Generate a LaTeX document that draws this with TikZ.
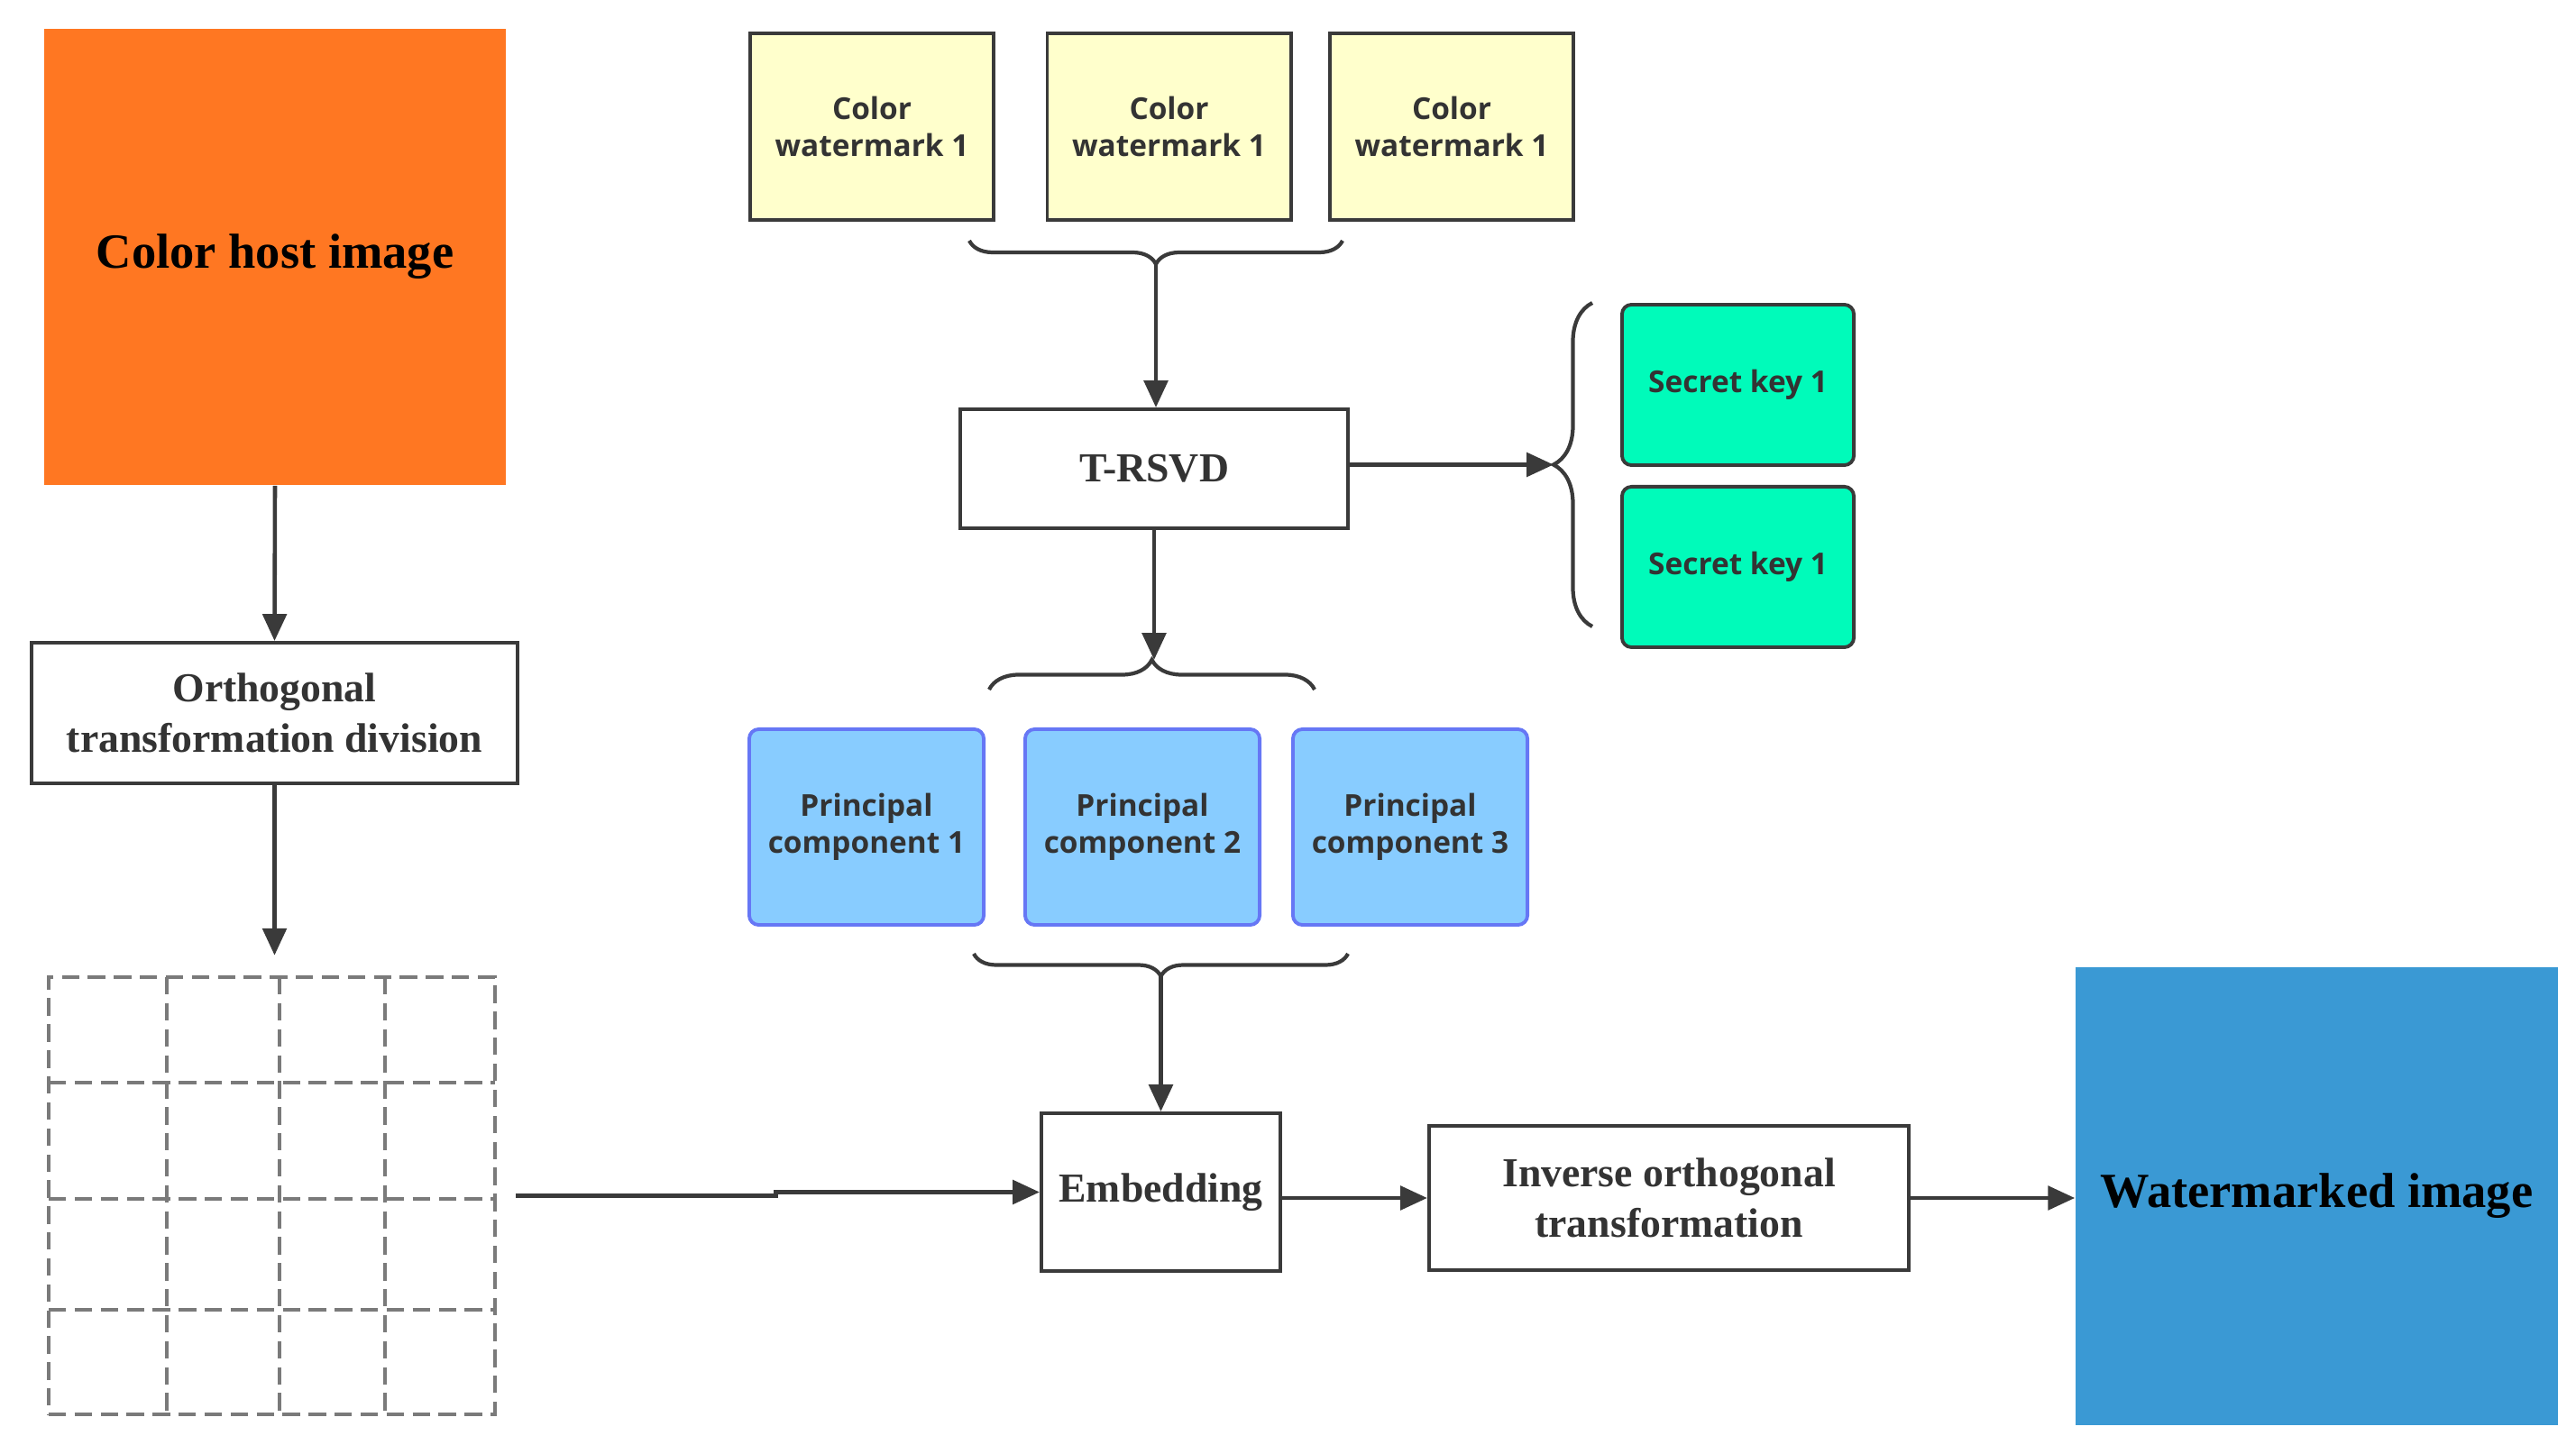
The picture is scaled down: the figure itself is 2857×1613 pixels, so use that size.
\documentclass[tikz,border=0pt]{standalone}
\usepackage{fontspec}
\setmainfont{Liberation Serif}
\setsansfont{Open Sans}
\usetikzlibrary{arrows.meta}
\usetikzlibrary{decorations.pathreplacing}
\usetikzlibrary{positioning}

\definecolor{hostorange}{HTML}{FF7722}
\definecolor{markblue}{HTML}{3A99D4}
\definecolor{wmyellow}{HTML}{FFFFCC}
\definecolor{keygreen}{HTML}{00FBBA}
\definecolor{pcfill}{HTML}{88CCFF}
\definecolor{pcedge}{HTML}{6677F5}
\definecolor{linegray}{HTML}{3A3A3A}
\definecolor{textgray}{HTML}{333333}
\definecolor{dashgray}{HTML}{7A7A7A}

\tikzset {
  % connector with a filled triangle head
  arr/.style = {
    draw = linegray,
    line width = 1.3pt,
    -{Triangle[length = 8.5pt, width = 7.5pt]}
  },
  % curly brace, tip on the left of the path
  brace line/.style = {
    draw = linegray,
    line width = 1.2pt,
    decorate,
    decoration = {brace, amplitude = #1}
  },
  % dashed block grid
  grid line/.style = {
    draw = dashgray,
    line width = 1.2pt,
    dash pattern = on 5.5pt off 2.7pt
  }
}
\tikzset {
  flow node/.style = {
    draw = linegray,
    line width = 1.1pt,
    rectangle,
    align = center,
    text = textgray
  },
  % serif processing step
  proc/.style = {
    flow node,
    fill = white,
    font = \bfseries\fontsize{13}{16}\selectfont
  },
  % coloured image block
  image block/.style = {
    rectangle,
    minimum width = 5.35cm,
    minimum height = 5.07cm,
    text = black,
    font = \bfseries\fontsize{15.5}{18}\selectfont
  },
  % small sans boxes
  sans box/.style = {
    flow node,
    font = \sffamily\bfseries\fontsize{9.5}{11.5}\selectfont
  },
  wm box/.style = {
    sans box,
    fill = wmyellow,
    minimum width = 2.70cm,
    minimum height = 2.07cm
  },
  secret box/.style = {
    sans box,
    fill = keygreen,
    rounded corners = 3pt,
    minimum width = 2.57cm,
    minimum height = 1.78cm
  },
  pc box/.style = {
    sans box,
    draw = pcedge,
    fill = pcfill,
    rounded corners = 3pt,
    minimum width = 2.60cm,
    minimum height = 2.17cm
  },
  node distance = 0.5cm
}

\begin{document}
\begin{tikzpicture}[x = 0.01cm, y = -0.01cm]
    \useasboundingbox (0,0) rectangle (2857,1613);

    % left column
    \node[image block, fill = hostorange, minimum width = 5.12cm, minimum height = 5.06cm] (host) at (305,285) {Color host image};
    \node[proc, minimum width = 5.39cm, minimum height = 1.56cm] (ortho) at (304.5,791) {Orthogonal\\transformation division};
    \node[grid line, rectangle, minimum width = 4.95cm, minimum height = 4.85cm] (grid) at (301.5,1326.5) {};
    \foreach \x in {185,310,427}
      \draw[grid line] (\x,1084) -- (\x,1569);
    \foreach \y in {1201,1330,1453}
      \draw[grid line] (54,\y) -- (549,\y);

    % watermarks and T-RSVD
    \node[wm box] (wm1) at (967,140.5) {Color\\watermark 1};
    \node[wm box] (wm2) at (1296.5,140.5) {Color\\watermark 1};
    \node[wm box] (wm3) at (1610,140.5) {Color\\watermark 1};

    \node[proc, minimum width = 4.30cm, minimum height = 1.32cm] (trsvd) at (1280,520) {T-RSVD};

    \node[secret box] (key1) at (1927.5,427) {Secret key 1};
    \node[secret box] (key2) [below=0.2cm of key1] {Secret key 1};

    \node[pc box] (pc1) at (961,917.5) {Principal\\component 1};
    \node[pc box] (pc2) at (1267,917.5) {Principal\\component 2};
    \node[pc box] (pc3) at (1564,917.5) {Principal\\component 3};

    % bottom row
    \node[proc, minimum width = 2.65cm, minimum height = 1.75cm] (emb) at (1287.5,1322.5) {Embedding};
    \node[proc, minimum width = 5.32cm, minimum height = 1.60cm] (inv) at (1851,1329) {Inverse orthogonal\\transformation};
    \node[image block, fill = markblue] (wmimg) at (2569.5,1327) {Watermarked image};

    % braces
    \draw[brace line = 0.26cm] (1489,267) -- (1075,267);
    \coordinate (wmtip) at (1282,293);
    \draw[brace line = 0.43cm] (1766,695) -- (1766,336);
    \coordinate (keytip) at (1723,515.5);
    \draw[brace line = 0.33cm] (1097,765) -- (1458,765);
    \coordinate (pctop) at (1277.5,732);
    \draw[brace line = 0.25cm] (1495,1058) -- (1080,1058);
    \coordinate (pcbot) at (1287.5,1083);

    % connectors
    \draw[arr] (host.south) -- (ortho.north);
    \draw[arr, shorten >= 0.22cm] (ortho.south) -- (ortho.south |- grid.north);
    \draw[arr] ([xshift = 0.21cm]grid.east) -- ++(288,0) |- (emb.west);

    \draw[arr] (wmtip) -- (wmtip |- trsvd.north);
    \draw[arr] (trsvd.east |- keytip) -- (keytip);
    \draw[arr] (trsvd.south) -- (trsvd.south |- pctop);
    \draw[arr] (pcbot) -- (pcbot |- emb.north);

    \draw[arr] (emb.east |- inv.west) -- (inv.west);
    \draw[arr] (inv.east) -- (inv.east -| wmimg.west);
  \end{tikzpicture}
\end{document}
